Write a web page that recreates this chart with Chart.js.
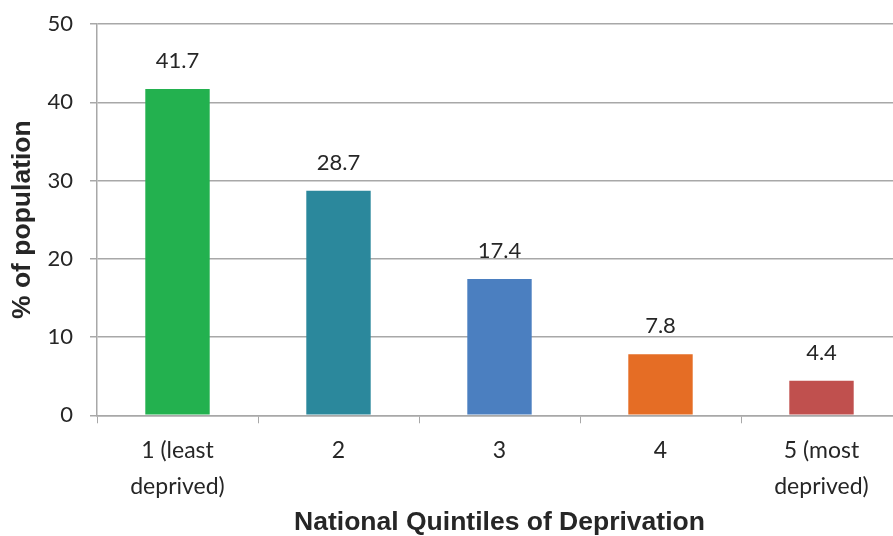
<!DOCTYPE html>
<html>
<head>
<meta charset="utf-8">
<script src="https://cdn.jsdelivr.net/npm/chart.js@4/dist/chart.umd.min.js"></script>
<style>
  html, body { margin: 0; padding: 0; background: #fff; overflow: hidden; }
  #wrap { width: 905px; height: 536px; }
</style>
</head>
<body>
<div id="wrap"><canvas id="c"></canvas></div>
<script>
const categories = [["1 (least", "deprived)"], "2", "3", "4", ["5 (most", "deprived)"]];
const values = [41.7, 28.7, 17.4, 7.8, 4.4];
const barColors = ["#23b14f", "#2b889c", "#4b7fc0", "#e56d25", "#c0504e"];
const yTicks = [0, 10, 20, 30, 40, 50];

const tickFont = { family: "Lato, 'Open Sans', sans-serif", size: 22 };
const titleFont = { family: "'Liberation Sans', Arial, sans-serif", size: 26.5, weight: "bold", lineHeight: 1 };
const gridColor = "#a8a8a8";

// Writes each bar's value above it
const valueLabels = {
  id: "valueLabels",
  afterDatasetsDraw(chart) {
    const ctx = chart.ctx;
    const meta = chart.getDatasetMeta(0);
    ctx.save();
    ctx.font = "22px Lato, 'Open Sans', sans-serif";
    ctx.fillStyle = "#262626";
    ctx.textAlign = "center";
    ctx.textBaseline = "middle";
    meta.data.forEach((bar, i) => {
      ctx.fillText(values[i].toFixed(1), bar.x, bar.y - 28);
    });
    ctx.restore();
  }
};

new Chart(document.getElementById("c"), {
  type: "bar",
  data: {
    labels: categories,
    datasets: [{
      data: values,
      backgroundColor: barColors,
      borderWidth: 0,
      categoryPercentage: 1,
      barPercentage: 0.4
    }]
  },
  options: {
    responsive: true,
    maintainAspectRatio: false,
    animation: false,
    devicePixelRatio: 1,
    layout: { padding: { top: 24, right: 3, left: 0, bottom: 0 } },
    plugins: { legend: { display: false }, tooltip: { enabled: false } },
    scales: {
      x: {
        grid: { display: true, drawOnChartArea: false, drawTicks: true, tickLength: 8, color: gridColor, offset: true },
        border: { display: true, color: gridColor, width: 1.5 },
        ticks: { color: "#262626", font: { ...tickFont, size: 23, lineHeight: 1.57 }, padding: 9, maxRotation: 0, autoSkip: false },
        title: { display: true, text: "National Quintiles of Deprivation", color: "#262626", font: titleFont, padding: { top: -4, bottom: 0 } }
      },
      y: {
        min: 0, max: 50,
        afterBuildTicks: s => { s.ticks = yTicks.map(v => ({ value: v })); },
        afterFit: s => { s.width = 97; s.paddingTop = 0; s.paddingBottom = 0; },
        grid: { color: gridColor, lineWidth: 1.5, tickLength: 7 },
        border: { display: true, color: gridColor, width: 1.5 },
        ticks: { color: "#262626", font: tickFont, padding: 17 },
        title: { display: true, text: "% of population", color: "#262626", font: titleFont, padding: { top: 9, bottom: 0 } }
      }
    }
  },
  plugins: [valueLabels]
});
</script>
</body>
</html>
